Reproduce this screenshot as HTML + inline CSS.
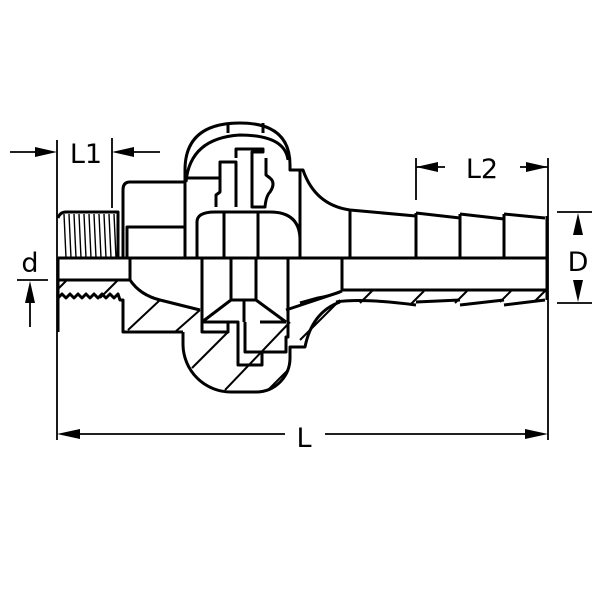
<!DOCTYPE html>
<html><head><style>body{margin:0;background:#fff}svg{display:block}</style></head><body>
<svg width="602" height="602" viewBox="0 0 602 602" xmlns="http://www.w3.org/2000/svg">
<rect width="602" height="602" fill="#fff"/>
<g fill="none" stroke="#000" stroke-width="3" stroke-linejoin="round">
<g stroke-width="1.8">
<line x1="57" y1="140" x2="57" y2="440"/>
<line x1="112" y1="138" x2="112" y2="208"/>
<line x1="10" y1="152" x2="45" y2="152"/>
<line x1="124" y1="152" x2="160" y2="152"/>
<line x1="416" y1="158" x2="416" y2="200"/>
<line x1="548" y1="158" x2="548" y2="440"/>
<line x1="416" y1="167" x2="445" y2="167"/>
<line x1="520" y1="167" x2="548" y2="167"/>
<line x1="557" y1="212" x2="592" y2="212"/>
<line x1="557" y1="303" x2="592" y2="303"/>
<line x1="578" y1="222" x2="578" y2="235"/>
<line x1="578" y1="280" x2="578" y2="295"/>
<line x1="17" y1="280" x2="48" y2="280"/>
<line x1="30" y1="295" x2="30" y2="327"/>
<line x1="68" y1="434" x2="285" y2="434"/>
<line x1="325" y1="434" x2="537" y2="434"/>
</g>
<line x1="58" y1="258" x2="548" y2="258"/>
<path d="M58 280 V258 M58 218 Q60 212 66 212 H118 V258"/>
<path d="M58 258 V332"/>
<path d="M58 280 H130 V258"/>
<path d="M123 258 V190 Q123 182 130 182 H185"/>
<path d="M127 258 V227 H185"/>
<path d="M185 258 V170 Q185 123 240 123 Q290 123 290 165 V170 H300 V258"/>
<path d="M186 182 Q190 138 240 135 Q285 135 288 160"/>
<line x1="186" y1="178" x2="220" y2="178"/>
<line x1="228" y1="123" x2="228" y2="133"/>
<line x1="263" y1="123" x2="263" y2="133"/>
<path d="M197 258 V222 Q197 212 215 212 H270 Q300 212 300 240"/>
<line x1="224" y1="212" x2="224" y2="258"/>
<line x1="258" y1="212" x2="258" y2="258"/>
<path d="M216 207 V195 L220 192 V162 H236 V207 M236 158 V149 H263 V152 H252 V207 H265 Q266 196 270 192 Q276 183 270 178 L266 175 V158"/>
<path d="M300 170 H303 Q315 205 350 210 L416 216"/>
<path d="M416 213 L460 218 M460 214 L504 219 M504 214 L545 218"/>
<line x1="350" y1="210" x2="350" y2="258"/>
<line x1="416" y1="213" x2="416" y2="258"/>
<line x1="460" y1="214" x2="460" y2="258"/>
<line x1="504" y1="214" x2="504" y2="258"/>
<line x1="547" y1="216" x2="547" y2="300"/>
<path d="M342 258 V290 H547"/>
<path d="M342 291 Q330 296 318 298 L300 303 M336 302 Q362 298 416 305 M416 302 L460 300 M460 305 L504 300 M504 305 L545 300"/>
<path d="M58 298 L62 294 L66 298 L70 294 L74 298 L78 294 L82 298 L86 294 L90 298 L94 294 L98 298 L102 294 L106 298 L110 294 L114 298 L118 294 L120 300 H123 V332 H183"/>
<path d="M130 280 Q140 295 160 300 L200 310"/>
<path d="M183 332 V345 A48 48 0 0 0 231 392 H256 A34 34 0 0 0 290 358 V347 H305 Q312 312 340 302"/>
<path d="M202 258 V332 H228 V322 H238 V365 H262 V352 H286 V337 H288 V258"/>
<line x1="231" y1="258" x2="231" y2="300"/>
<line x1="256" y1="258" x2="256" y2="300"/>
<path d="M202 322 L231 300 H256 L286 322"/>
<path d="M202 322 H228 M260 322 H286"/>
<path d="M286 310 L340 292"/>
<line x1="244" y1="300" x2="244" y2="322"/>
<path d="M245 322 V352 H262"/>
</g>
<g stroke="#000" stroke-width="2">
<line x1="58" y1="289" x2="66" y2="281"/>
<line x1="100" y1="298" x2="118" y2="280"/>
<line x1="128" y1="330" x2="160" y2="300"/>
<line x1="175" y1="332" x2="200" y2="310"/>
<line x1="192" y1="368" x2="228" y2="332"/>
<line x1="225" y1="390" x2="290" y2="322"/>
<line x1="268" y1="390" x2="288" y2="370"/>
<line x1="300" y1="340" x2="340" y2="300"/>
<line x1="360" y1="303" x2="372" y2="291"/>
<line x1="410" y1="305" x2="424" y2="291"/>
<line x1="455" y1="303" x2="467" y2="291"/>
<line x1="500" y1="302" x2="511" y2="291"/>
<line x1="535" y1="301" x2="545" y2="291"/>
</g>
<g stroke="#000" stroke-width="1.4">
<line x1="64" y1="214" x2="66" y2="258"/><line x1="69" y1="214" x2="71" y2="258"/><line x1="74" y1="214" x2="76" y2="258"/><line x1="79" y1="214" x2="81" y2="258"/><line x1="84" y1="214" x2="86" y2="258"/><line x1="89" y1="214" x2="91" y2="258"/><line x1="94" y1="214" x2="96" y2="258"/><line x1="99" y1="214" x2="101" y2="258"/><line x1="104" y1="214" x2="106" y2="258"/><line x1="109" y1="214" x2="111" y2="258"/><line x1="114" y1="214" x2="116" y2="258"/>
</g>
<g fill="#000">
<polygon points="57,152 35,147 35,157"/>
<polygon points="112,152 134,147 134,157"/>
<polygon points="416,167 438,162 438,172"/>
<polygon points="548,167 526,162 526,172"/>
<polygon points="578,213 573,235 583,235"/>
<polygon points="578,302 573,280 583,280"/>
<polygon points="30,281 25,303 35,303"/>
<polygon points="57,434 80,429 80,439"/>
<polygon points="548,434 525,429 525,439"/>
</g>
<g font-family="DejaVu Sans, sans-serif" font-size="27" fill="#000" text-anchor="middle">
<text x="86" y="163">L1</text>
<text x="482" y="178">L2</text>
<text x="578" y="271">D</text>
<text x="30" y="272">d</text>
<text x="304" y="447">L</text>
</g>
</svg>
</body></html>
